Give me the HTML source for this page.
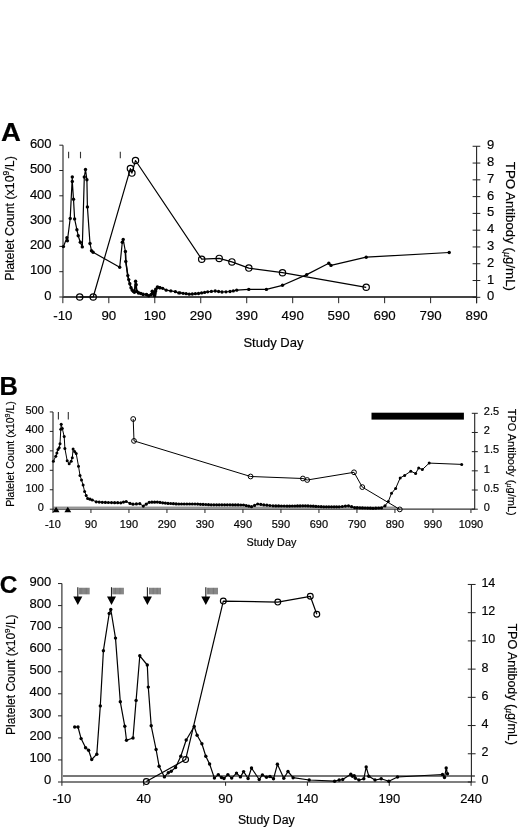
<!DOCTYPE html>
<html><head><meta charset="utf-8"><style>
html,body{margin:0;padding:0;background:#fff;}
svg{display:block;will-change:transform;}
text{font-family:"Liberation Sans", sans-serif;fill:#000;stroke:#000;stroke-width:0.18px;}
</style></head><body>
<svg width="520" height="831" viewBox="0 0 520 831">
<text transform="translate(1.0,140.6) scale(1.1,1)" font-size="25" font-weight="bold">A</text>
<line x1="63.00" y1="145.20" x2="63.00" y2="297.00" stroke="#222" stroke-width="1.1"/>
<line x1="59.30" y1="297.00" x2="63.00" y2="297.00" stroke="#222" stroke-width="1"/>
<text x="51.6" y="299.7" font-size="13" text-anchor="end" font-weight="normal" >0</text>
<line x1="59.30" y1="271.70" x2="63.00" y2="271.70" stroke="#222" stroke-width="1"/>
<text x="51.6" y="274.4" font-size="13" text-anchor="end" font-weight="normal" >100</text>
<line x1="59.30" y1="246.40" x2="63.00" y2="246.40" stroke="#222" stroke-width="1"/>
<text x="51.6" y="249.1" font-size="13" text-anchor="end" font-weight="normal" >200</text>
<line x1="59.30" y1="221.10" x2="63.00" y2="221.10" stroke="#222" stroke-width="1"/>
<text x="51.6" y="223.8" font-size="13" text-anchor="end" font-weight="normal" >300</text>
<line x1="59.30" y1="195.80" x2="63.00" y2="195.80" stroke="#222" stroke-width="1"/>
<text x="51.6" y="198.5" font-size="13" text-anchor="end" font-weight="normal" >400</text>
<line x1="59.30" y1="170.50" x2="63.00" y2="170.50" stroke="#222" stroke-width="1"/>
<text x="51.6" y="173.2" font-size="13" text-anchor="end" font-weight="normal" >500</text>
<line x1="59.30" y1="145.20" x2="63.00" y2="145.20" stroke="#222" stroke-width="1"/>
<text x="51.6" y="147.9" font-size="13" text-anchor="end" font-weight="normal" >600</text>
<line x1="63.00" y1="297.00" x2="476.60" y2="297.00" stroke="#444" stroke-width="1.9"/>
<line x1="62.85" y1="297.00" x2="62.85" y2="303.20" stroke="#222" stroke-width="1"/>
<text x="62.9" y="319.5" font-size="13.3" text-anchor="middle" font-weight="normal" >-10</text>
<line x1="108.82" y1="297.00" x2="108.82" y2="303.20" stroke="#222" stroke-width="1"/>
<text x="108.8" y="319.5" font-size="13.3" text-anchor="middle" font-weight="normal" >90</text>
<line x1="154.79" y1="297.00" x2="154.79" y2="303.20" stroke="#222" stroke-width="1"/>
<text x="154.8" y="319.5" font-size="13.3" text-anchor="middle" font-weight="normal" >190</text>
<line x1="200.76" y1="297.00" x2="200.76" y2="303.20" stroke="#222" stroke-width="1"/>
<text x="200.8" y="319.5" font-size="13.3" text-anchor="middle" font-weight="normal" >290</text>
<line x1="246.73" y1="297.00" x2="246.73" y2="303.20" stroke="#222" stroke-width="1"/>
<text x="246.7" y="319.5" font-size="13.3" text-anchor="middle" font-weight="normal" >390</text>
<line x1="292.70" y1="297.00" x2="292.70" y2="303.20" stroke="#222" stroke-width="1"/>
<text x="292.7" y="319.5" font-size="13.3" text-anchor="middle" font-weight="normal" >490</text>
<line x1="338.67" y1="297.00" x2="338.67" y2="303.20" stroke="#222" stroke-width="1"/>
<text x="338.7" y="319.5" font-size="13.3" text-anchor="middle" font-weight="normal" >590</text>
<line x1="384.64" y1="297.00" x2="384.64" y2="303.20" stroke="#222" stroke-width="1"/>
<text x="384.6" y="319.5" font-size="13.3" text-anchor="middle" font-weight="normal" >690</text>
<line x1="430.61" y1="297.00" x2="430.61" y2="303.20" stroke="#222" stroke-width="1"/>
<text x="430.6" y="319.5" font-size="13.3" text-anchor="middle" font-weight="normal" >790</text>
<line x1="476.58" y1="297.00" x2="476.58" y2="303.20" stroke="#222" stroke-width="1"/>
<text x="476.6" y="319.5" font-size="13.3" text-anchor="middle" font-weight="normal" >890</text>
<text x="273.4" y="347.2" font-size="13" text-anchor="middle" font-weight="normal" >Study Day</text>
<line x1="476.60" y1="146.28" x2="476.60" y2="303.20" stroke="#222" stroke-width="1.1"/>
<line x1="472.60" y1="297.30" x2="480.30" y2="297.30" stroke="#222" stroke-width="1"/>
<text x="487.0" y="300.3" font-size="13" text-anchor="start" font-weight="normal" >0</text>
<line x1="472.60" y1="280.52" x2="480.30" y2="280.52" stroke="#222" stroke-width="1"/>
<text x="487.0" y="283.5" font-size="13" text-anchor="start" font-weight="normal" >1</text>
<line x1="472.60" y1="263.74" x2="480.30" y2="263.74" stroke="#222" stroke-width="1"/>
<text x="487.0" y="266.7" font-size="13" text-anchor="start" font-weight="normal" >2</text>
<line x1="472.60" y1="246.96" x2="480.30" y2="246.96" stroke="#222" stroke-width="1"/>
<text x="487.0" y="250.0" font-size="13" text-anchor="start" font-weight="normal" >3</text>
<line x1="472.60" y1="230.18" x2="480.30" y2="230.18" stroke="#222" stroke-width="1"/>
<text x="487.0" y="233.2" font-size="13" text-anchor="start" font-weight="normal" >4</text>
<line x1="472.60" y1="213.40" x2="480.30" y2="213.40" stroke="#222" stroke-width="1"/>
<text x="487.0" y="216.4" font-size="13" text-anchor="start" font-weight="normal" >5</text>
<line x1="472.60" y1="196.62" x2="480.30" y2="196.62" stroke="#222" stroke-width="1"/>
<text x="487.0" y="199.6" font-size="13" text-anchor="start" font-weight="normal" >6</text>
<line x1="472.60" y1="179.84" x2="480.30" y2="179.84" stroke="#222" stroke-width="1"/>
<text x="487.0" y="182.8" font-size="13" text-anchor="start" font-weight="normal" >7</text>
<line x1="472.60" y1="163.06" x2="480.30" y2="163.06" stroke="#222" stroke-width="1"/>
<text x="487.0" y="166.1" font-size="13" text-anchor="start" font-weight="normal" >8</text>
<line x1="472.60" y1="146.28" x2="480.30" y2="146.28" stroke="#222" stroke-width="1"/>
<text x="487.0" y="149.3" font-size="13" text-anchor="start" font-weight="normal" >9</text>
<text transform="translate(13.8,218.5) rotate(-90)" font-size="12.4" text-anchor="middle">Platelet Count (x10<tspan font-size="8.5" dy="-5">9</tspan><tspan dy="5">/L)</tspan></text>
<text transform="translate(506.4,226.4) rotate(90)" font-size="13.3" text-anchor="middle">TPO Antibody (<tspan font-size="10" dy="2" font-family="Liberation Serif" font-style="italic">&#956;</tspan><tspan dy="-2">g/mL)</tspan></text>
<line x1="68.60" y1="151.80" x2="68.60" y2="158.30" stroke="#333" stroke-width="1.1"/>
<line x1="80.50" y1="151.80" x2="80.50" y2="158.30" stroke="#333" stroke-width="1.1"/>
<line x1="120.30" y1="151.80" x2="120.30" y2="158.30" stroke="#333" stroke-width="1.1"/>
<polyline points="63.4,246.6 66.9,237.7 67.4,240.8 70.2,218.5 72.3,176.9 72.3,181.5 73.5,199.2 74.6,218.9 76.9,229.7 78.2,235.7 80.3,242.3 82.3,246.9 84.3,177.0 85.5,169.5 86.9,179.7 87.4,206.9 90.0,243.5 91.5,250.8 93.1,252.3 119.7,267.2 122.3,242.3 123.2,239.5 125.4,251.5 125.8,261.5 127.8,275.6 128.7,279.6 129.8,283.7 131.0,287.7 132.1,290.0 133.3,291.2 134.4,292.3 135.6,281.3 136.2,284.8 136.7,291.2 138.5,292.9 140.8,293.5 143.1,294.4 146.5,294.6 148.8,295.8 151.2,294.6 152.3,291.2 154.6,295.8 155.8,289.4 157.5,287.1 159.8,287.7 162.7,288.3 166.2,290.2 170.8,290.9 175.4,291.7 178.8,292.9 180.0,292.8 189.2,294.2 198.5,293.5 207.7,291.8 215.2,291.0 222.0,292.0 230.0,291.5 236.7,290.2 248.8,289.4 266.4,289.4 282.5,285.3 306.7,274.6 328.8,263.3 331.0,265.4 366.2,257.2 449.2,252.5" fill="none" stroke="#000" stroke-width="1.2" stroke-linejoin="round" />
<polyline points="125.4,251.5 125.8,261.5 127.8,275.6 128.7,279.6 129.8,283.7 131.0,287.7 132.1,290.0 133.3,291.2 134.4,292.3 135.6,281.3 136.2,284.8 136.7,291.2 138.5,292.9 140.8,293.5 143.1,294.4 146.5,294.6 148.8,295.8 151.2,294.6 152.3,291.2 154.6,295.8 155.8,289.4 157.5,287.1 159.8,287.7" fill="none" stroke="#000" stroke-width="1.5" stroke-linejoin="round" />
<circle cx="63.4" cy="246.6" r="1.7" fill="#000"/><circle cx="66.9" cy="237.7" r="1.7" fill="#000"/><circle cx="67.4" cy="240.8" r="1.7" fill="#000"/><circle cx="70.2" cy="218.5" r="1.7" fill="#000"/><circle cx="72.3" cy="176.9" r="1.7" fill="#000"/><circle cx="72.3" cy="181.5" r="1.7" fill="#000"/><circle cx="73.5" cy="199.2" r="1.7" fill="#000"/><circle cx="74.6" cy="218.9" r="1.7" fill="#000"/><circle cx="76.9" cy="229.7" r="1.7" fill="#000"/><circle cx="78.2" cy="235.7" r="1.7" fill="#000"/><circle cx="80.3" cy="242.3" r="1.7" fill="#000"/><circle cx="82.3" cy="246.9" r="1.7" fill="#000"/><circle cx="84.3" cy="177.0" r="1.7" fill="#000"/><circle cx="85.5" cy="169.5" r="1.7" fill="#000"/><circle cx="86.9" cy="179.7" r="1.7" fill="#000"/><circle cx="87.4" cy="206.9" r="1.7" fill="#000"/><circle cx="90.0" cy="243.5" r="1.7" fill="#000"/><circle cx="91.5" cy="250.8" r="1.7" fill="#000"/><circle cx="93.1" cy="252.3" r="1.7" fill="#000"/><circle cx="119.7" cy="267.2" r="1.7" fill="#000"/><circle cx="122.3" cy="242.3" r="1.7" fill="#000"/><circle cx="123.2" cy="239.5" r="1.7" fill="#000"/><circle cx="125.4" cy="251.5" r="1.7" fill="#000"/><circle cx="125.8" cy="261.5" r="1.7" fill="#000"/><circle cx="127.8" cy="275.6" r="1.7" fill="#000"/><circle cx="128.7" cy="279.6" r="1.7" fill="#000"/><circle cx="129.8" cy="283.7" r="1.7" fill="#000"/><circle cx="131.0" cy="287.7" r="1.7" fill="#000"/><circle cx="132.1" cy="290.0" r="1.7" fill="#000"/><circle cx="133.3" cy="291.2" r="1.7" fill="#000"/><circle cx="134.4" cy="292.3" r="1.7" fill="#000"/><circle cx="135.6" cy="281.3" r="1.7" fill="#000"/><circle cx="136.2" cy="284.8" r="1.7" fill="#000"/><circle cx="248.8" cy="289.4" r="1.7" fill="#000"/><circle cx="266.4" cy="289.4" r="1.7" fill="#000"/><circle cx="282.5" cy="285.3" r="1.7" fill="#000"/><circle cx="306.7" cy="274.6" r="1.7" fill="#000"/><circle cx="328.8" cy="263.3" r="1.7" fill="#000"/><circle cx="331.0" cy="265.4" r="1.7" fill="#000"/><circle cx="366.2" cy="257.2" r="1.7" fill="#000"/><circle cx="449.2" cy="252.5" r="1.7" fill="#000"/>
<circle cx="136.7" cy="291.2" r="1.8" fill="#000"/><circle cx="138.5" cy="292.9" r="1.8" fill="#000"/><circle cx="140.8" cy="293.5" r="1.8" fill="#000"/><circle cx="143.1" cy="294.4" r="1.8" fill="#000"/><circle cx="146.5" cy="294.6" r="1.8" fill="#000"/><circle cx="148.8" cy="295.8" r="1.8" fill="#000"/><circle cx="151.2" cy="294.6" r="1.8" fill="#000"/><circle cx="152.3" cy="291.2" r="1.8" fill="#000"/><circle cx="153.4" cy="293.5" r="1.8" fill="#000"/><circle cx="154.6" cy="295.8" r="1.8" fill="#000"/><circle cx="155.0" cy="293.7" r="1.8" fill="#000"/><circle cx="155.4" cy="291.5" r="1.8" fill="#000"/><circle cx="155.8" cy="289.4" r="1.8" fill="#000"/><circle cx="157.5" cy="287.1" r="1.8" fill="#000"/><circle cx="159.8" cy="287.7" r="1.8" fill="#000"/>
<circle cx="159.8" cy="287.7" r="1.65" fill="#000"/><circle cx="162.7" cy="288.3" r="1.65" fill="#000"/><circle cx="166.2" cy="290.2" r="1.65" fill="#000"/><circle cx="170.8" cy="290.9" r="1.65" fill="#000"/><circle cx="175.4" cy="291.7" r="1.65" fill="#000"/><circle cx="178.8" cy="292.9" r="1.65" fill="#000"/><circle cx="180.0" cy="292.8" r="1.65" fill="#000"/><circle cx="183.1" cy="293.3" r="1.65" fill="#000"/><circle cx="186.1" cy="293.7" r="1.65" fill="#000"/><circle cx="189.2" cy="294.2" r="1.65" fill="#000"/><circle cx="192.3" cy="294.0" r="1.65" fill="#000"/><circle cx="195.4" cy="293.7" r="1.65" fill="#000"/><circle cx="198.5" cy="293.5" r="1.65" fill="#000"/><circle cx="201.6" cy="292.9" r="1.65" fill="#000"/><circle cx="204.6" cy="292.4" r="1.65" fill="#000"/><circle cx="207.7" cy="291.8" r="1.65" fill="#000"/><circle cx="211.4" cy="291.4" r="1.65" fill="#000"/><circle cx="215.2" cy="291.0" r="1.65" fill="#000"/><circle cx="218.6" cy="291.5" r="1.65" fill="#000"/><circle cx="222.0" cy="292.0" r="1.65" fill="#000"/><circle cx="226.0" cy="291.8" r="1.65" fill="#000"/><circle cx="230.0" cy="291.5" r="1.65" fill="#000"/><circle cx="233.3" cy="290.9" r="1.65" fill="#000"/><circle cx="236.7" cy="290.2" r="1.65" fill="#000"/>
<polyline points="79.7,297.0 93.2,297.0 130.4,168.6 131.9,173.1 135.5,160.5 201.7,259.2 219.2,258.4 231.9,261.9 248.8,268.1 282.5,272.7 366.2,287.3" fill="none" stroke="#000" stroke-width="1.2" stroke-linejoin="round" />
<circle cx="79.7" cy="297.0" r="3.15" fill="none" stroke="#000" stroke-width="1.2"/><circle cx="93.2" cy="297.0" r="3.15" fill="none" stroke="#000" stroke-width="1.2"/><circle cx="130.4" cy="168.6" r="3.15" fill="none" stroke="#000" stroke-width="1.2"/><circle cx="131.9" cy="173.1" r="3.15" fill="none" stroke="#000" stroke-width="1.2"/><circle cx="135.5" cy="160.5" r="3.15" fill="none" stroke="#000" stroke-width="1.2"/><circle cx="201.7" cy="259.2" r="3.15" fill="none" stroke="#000" stroke-width="1.2"/><circle cx="219.2" cy="258.4" r="3.15" fill="none" stroke="#000" stroke-width="1.2"/><circle cx="231.9" cy="261.9" r="3.15" fill="none" stroke="#000" stroke-width="1.2"/><circle cx="248.8" cy="268.1" r="3.15" fill="none" stroke="#000" stroke-width="1.2"/><circle cx="282.5" cy="272.7" r="3.15" fill="none" stroke="#000" stroke-width="1.2"/><circle cx="366.2" cy="287.3" r="3.15" fill="none" stroke="#000" stroke-width="1.2"/>
<text x="-0.6" y="395.3" font-size="25.5" text-anchor="start" font-weight="bold" >B</text>
<line x1="53.00" y1="411.95" x2="53.00" y2="509.20" stroke="#222" stroke-width="1.1"/>
<line x1="49.80" y1="509.20" x2="53.00" y2="509.20" stroke="#222" stroke-width="1"/>
<text x="43.8" y="511.2" font-size="11" text-anchor="end" font-weight="normal" >0</text>
<line x1="49.80" y1="489.75" x2="53.00" y2="489.75" stroke="#222" stroke-width="1"/>
<text x="43.8" y="491.8" font-size="11" text-anchor="end" font-weight="normal" >100</text>
<line x1="49.80" y1="470.30" x2="53.00" y2="470.30" stroke="#222" stroke-width="1"/>
<text x="43.8" y="472.3" font-size="11" text-anchor="end" font-weight="normal" >200</text>
<line x1="49.80" y1="450.85" x2="53.00" y2="450.85" stroke="#222" stroke-width="1"/>
<text x="43.8" y="452.9" font-size="11" text-anchor="end" font-weight="normal" >300</text>
<line x1="49.80" y1="431.40" x2="53.00" y2="431.40" stroke="#222" stroke-width="1"/>
<text x="43.8" y="433.4" font-size="11" text-anchor="end" font-weight="normal" >400</text>
<line x1="49.80" y1="411.95" x2="53.00" y2="411.95" stroke="#222" stroke-width="1"/>
<text x="43.8" y="413.9" font-size="11" text-anchor="end" font-weight="normal" >500</text>
<line x1="53.00" y1="507.20" x2="396.00" y2="507.20" stroke="#666" stroke-width="1"/>
<line x1="53.00" y1="509.20" x2="474.70" y2="509.20" stroke="#333" stroke-width="1.2"/>
<line x1="52.94" y1="509.20" x2="52.94" y2="513.00" stroke="#222" stroke-width="1"/>
<text x="52.9" y="527.5" font-size="11" text-anchor="middle" font-weight="normal" >-10</text>
<line x1="90.94" y1="509.20" x2="90.94" y2="513.00" stroke="#222" stroke-width="1"/>
<text x="90.9" y="527.5" font-size="11" text-anchor="middle" font-weight="normal" >90</text>
<line x1="128.94" y1="509.20" x2="128.94" y2="513.00" stroke="#222" stroke-width="1"/>
<text x="128.9" y="527.5" font-size="11" text-anchor="middle" font-weight="normal" >190</text>
<line x1="166.94" y1="509.20" x2="166.94" y2="513.00" stroke="#222" stroke-width="1"/>
<text x="166.9" y="527.5" font-size="11" text-anchor="middle" font-weight="normal" >290</text>
<line x1="204.94" y1="509.20" x2="204.94" y2="513.00" stroke="#222" stroke-width="1"/>
<text x="204.9" y="527.5" font-size="11" text-anchor="middle" font-weight="normal" >390</text>
<line x1="242.94" y1="509.20" x2="242.94" y2="513.00" stroke="#222" stroke-width="1"/>
<text x="242.9" y="527.5" font-size="11" text-anchor="middle" font-weight="normal" >490</text>
<line x1="280.94" y1="509.20" x2="280.94" y2="513.00" stroke="#222" stroke-width="1"/>
<text x="280.9" y="527.5" font-size="11" text-anchor="middle" font-weight="normal" >590</text>
<line x1="318.94" y1="509.20" x2="318.94" y2="513.00" stroke="#222" stroke-width="1"/>
<text x="318.9" y="527.5" font-size="11" text-anchor="middle" font-weight="normal" >690</text>
<line x1="356.94" y1="509.20" x2="356.94" y2="513.00" stroke="#222" stroke-width="1"/>
<text x="356.9" y="527.5" font-size="11" text-anchor="middle" font-weight="normal" >790</text>
<line x1="394.94" y1="509.20" x2="394.94" y2="513.00" stroke="#222" stroke-width="1"/>
<text x="394.9" y="527.5" font-size="11" text-anchor="middle" font-weight="normal" >890</text>
<line x1="432.94" y1="509.20" x2="432.94" y2="513.00" stroke="#222" stroke-width="1"/>
<text x="432.9" y="527.5" font-size="11" text-anchor="middle" font-weight="normal" >990</text>
<line x1="470.94" y1="509.20" x2="470.94" y2="513.00" stroke="#222" stroke-width="1"/>
<text x="470.9" y="527.5" font-size="11" text-anchor="middle" font-weight="normal" >1090</text>
<text x="271.4" y="545.8" font-size="10.8" text-anchor="middle" font-weight="normal" >Study Day</text>
<line x1="474.70" y1="413.30" x2="474.70" y2="509.20" stroke="#222" stroke-width="1.1"/>
<line x1="471.80" y1="509.20" x2="477.80" y2="509.20" stroke="#222" stroke-width="1"/>
<text x="483.8" y="510.9" font-size="11" text-anchor="start" font-weight="normal" >0</text>
<line x1="471.80" y1="490.02" x2="477.80" y2="490.02" stroke="#222" stroke-width="1"/>
<text x="483.8" y="491.7" font-size="11" text-anchor="start" font-weight="normal" >0.5</text>
<line x1="471.80" y1="470.84" x2="477.80" y2="470.84" stroke="#222" stroke-width="1"/>
<text x="483.8" y="472.5" font-size="11" text-anchor="start" font-weight="normal" >1</text>
<line x1="471.80" y1="451.66" x2="477.80" y2="451.66" stroke="#222" stroke-width="1"/>
<text x="483.8" y="453.4" font-size="11" text-anchor="start" font-weight="normal" >1.5</text>
<line x1="471.80" y1="432.48" x2="477.80" y2="432.48" stroke="#222" stroke-width="1"/>
<text x="483.8" y="434.2" font-size="11" text-anchor="start" font-weight="normal" >2</text>
<line x1="471.80" y1="413.30" x2="477.80" y2="413.30" stroke="#222" stroke-width="1"/>
<text x="483.8" y="415.0" font-size="11" text-anchor="start" font-weight="normal" >2.5</text>
<text transform="translate(13.6,454.0) rotate(-90)" font-size="10.5" text-anchor="middle">Platelet Count (x10<tspan font-size="7" dy="-4">9</tspan><tspan dy="4">/L)</tspan></text>
<text transform="translate(508.3,462.2) rotate(90)" font-size="11" text-anchor="middle">TPO Antibody (<tspan font-size="8.5" dy="1.5" font-family="Liberation Serif" font-style="italic">&#956;</tspan><tspan dy="-1.5">g/mL)</tspan></text>
<line x1="58.40" y1="412.00" x2="58.40" y2="419.60" stroke="#333" stroke-width="1.1"/>
<line x1="68.30" y1="412.00" x2="68.30" y2="419.60" stroke="#333" stroke-width="1.1"/>
<rect x="371.5" y="412.7" width="92.4" height="6.9" fill="#000"/>
<polygon points="52.7,512.3 59.5,512.3 56.1,506.7" fill="#000"/>
<polygon points="64.4,512.3 71.2,512.3 67.8,506.7" fill="#000"/>
<polyline points="53.4,461.2 55.8,456.2 56.9,453.1 58.0,449.5 59.2,447.7 60.0,443.8 60.8,429.2 61.2,424.3 62.3,428.5 64.2,436.6 64.9,448.5 67.2,460.8 69.2,463.8 71.2,461.2 72.3,457.7 73.1,448.9 74.6,451.5 76.2,453.5 78.5,466.2 80.0,475.4 81.5,480.0 83.1,485.1 84.6,491.5 86.2,495.4 87.7,498.5 90.0,499.2 92.3,500.0 96.2,501.8 102.3,502.3 111.5,502.6 120.8,502.8 126.2,501.5 130.0,503.4 133.0,504.2 139.8,503.7 143.3,506.1 149.2,502.3 157.3,502.1 168.0,503.4 178.8,504.0 195.0,504.0 211.2,504.8 227.3,504.8 243.5,505.0 251.5,506.7 257.7,504.0 263.8,504.9 273.0,505.8 287.0,506.1 305.4,505.8 323.8,506.8 339.2,506.8 348.5,505.8 354.6,507.6 373.0,508.3 381.5,507.9 385.0,505.8 388.3,501.5 391.5,493.3 395.6,488.5 400.2,477.9 404.6,475.4 410.8,471.2 415.6,473.5 418.7,467.9 422.3,469.6 429.2,463.1 461.7,464.4" fill="none" stroke="#000" stroke-width="1.0" stroke-linejoin="round" />
<circle cx="53.4" cy="461.2" r="1.5" fill="#000"/><circle cx="55.8" cy="456.2" r="1.5" fill="#000"/><circle cx="56.9" cy="453.1" r="1.5" fill="#000"/><circle cx="58.0" cy="449.5" r="1.5" fill="#000"/><circle cx="59.2" cy="447.7" r="1.5" fill="#000"/><circle cx="60.0" cy="443.8" r="1.5" fill="#000"/><circle cx="60.8" cy="429.2" r="1.5" fill="#000"/><circle cx="61.2" cy="424.3" r="1.5" fill="#000"/><circle cx="62.3" cy="428.5" r="1.5" fill="#000"/><circle cx="64.2" cy="436.6" r="1.5" fill="#000"/><circle cx="64.9" cy="448.5" r="1.5" fill="#000"/><circle cx="67.2" cy="460.8" r="1.5" fill="#000"/><circle cx="69.2" cy="463.8" r="1.5" fill="#000"/><circle cx="71.2" cy="461.2" r="1.5" fill="#000"/><circle cx="72.3" cy="457.7" r="1.5" fill="#000"/><circle cx="73.1" cy="448.9" r="1.5" fill="#000"/><circle cx="74.6" cy="451.5" r="1.5" fill="#000"/><circle cx="76.2" cy="453.5" r="1.5" fill="#000"/><circle cx="78.5" cy="466.2" r="1.5" fill="#000"/><circle cx="80.0" cy="475.4" r="1.5" fill="#000"/><circle cx="81.5" cy="480.0" r="1.5" fill="#000"/><circle cx="83.1" cy="485.1" r="1.5" fill="#000"/><circle cx="84.6" cy="491.5" r="1.5" fill="#000"/><circle cx="86.2" cy="495.4" r="1.5" fill="#000"/><circle cx="388.3" cy="501.5" r="1.5" fill="#000"/><circle cx="391.5" cy="493.3" r="1.5" fill="#000"/><circle cx="395.6" cy="488.5" r="1.5" fill="#000"/><circle cx="400.2" cy="477.9" r="1.5" fill="#000"/><circle cx="404.6" cy="475.4" r="1.5" fill="#000"/><circle cx="410.8" cy="471.2" r="1.5" fill="#000"/><circle cx="415.6" cy="473.5" r="1.5" fill="#000"/><circle cx="418.7" cy="467.9" r="1.5" fill="#000"/><circle cx="422.3" cy="469.6" r="1.5" fill="#000"/><circle cx="429.2" cy="463.1" r="1.5" fill="#000"/><circle cx="461.7" cy="464.4" r="1.5" fill="#000"/>
<circle cx="87.7" cy="498.5" r="1.6" fill="#000"/><circle cx="90.0" cy="499.2" r="1.6" fill="#000"/><circle cx="92.3" cy="500.0" r="1.6" fill="#000"/><circle cx="96.2" cy="501.8" r="1.6" fill="#000"/><circle cx="99.2" cy="502.1" r="1.6" fill="#000"/><circle cx="102.3" cy="502.3" r="1.6" fill="#000"/><circle cx="105.4" cy="502.4" r="1.6" fill="#000"/><circle cx="108.4" cy="502.5" r="1.6" fill="#000"/><circle cx="111.5" cy="502.6" r="1.6" fill="#000"/><circle cx="114.6" cy="502.7" r="1.6" fill="#000"/><circle cx="117.7" cy="502.7" r="1.6" fill="#000"/><circle cx="120.8" cy="502.8" r="1.6" fill="#000"/><circle cx="123.5" cy="502.1" r="1.6" fill="#000"/><circle cx="126.2" cy="501.5" r="1.6" fill="#000"/><circle cx="130.0" cy="503.4" r="1.6" fill="#000"/><circle cx="133.0" cy="504.2" r="1.6" fill="#000"/><circle cx="136.4" cy="503.9" r="1.6" fill="#000"/><circle cx="139.8" cy="503.7" r="1.6" fill="#000"/><circle cx="143.3" cy="506.1" r="1.6" fill="#000"/><circle cx="146.2" cy="504.2" r="1.6" fill="#000"/><circle cx="149.2" cy="502.3" r="1.6" fill="#000"/><circle cx="151.9" cy="502.2" r="1.6" fill="#000"/><circle cx="154.6" cy="502.2" r="1.6" fill="#000"/><circle cx="157.3" cy="502.1" r="1.6" fill="#000"/><circle cx="160.0" cy="502.4" r="1.6" fill="#000"/><circle cx="162.7" cy="502.8" r="1.6" fill="#000"/><circle cx="165.3" cy="503.1" r="1.6" fill="#000"/><circle cx="168.0" cy="503.4" r="1.6" fill="#000"/><circle cx="170.7" cy="503.5" r="1.6" fill="#000"/><circle cx="173.4" cy="503.7" r="1.6" fill="#000"/><circle cx="176.1" cy="503.9" r="1.6" fill="#000"/><circle cx="178.8" cy="504.0" r="1.6" fill="#000"/><circle cx="181.5" cy="504.0" r="1.6" fill="#000"/><circle cx="184.2" cy="504.0" r="1.6" fill="#000"/><circle cx="186.9" cy="504.0" r="1.6" fill="#000"/><circle cx="189.6" cy="504.0" r="1.6" fill="#000"/><circle cx="192.3" cy="504.0" r="1.6" fill="#000"/><circle cx="195.0" cy="504.0" r="1.6" fill="#000"/><circle cx="197.7" cy="504.1" r="1.6" fill="#000"/><circle cx="200.4" cy="504.3" r="1.6" fill="#000"/><circle cx="203.1" cy="504.4" r="1.6" fill="#000"/><circle cx="205.8" cy="504.5" r="1.6" fill="#000"/><circle cx="208.5" cy="504.7" r="1.6" fill="#000"/><circle cx="211.2" cy="504.8" r="1.6" fill="#000"/><circle cx="213.9" cy="504.8" r="1.6" fill="#000"/><circle cx="216.6" cy="504.8" r="1.6" fill="#000"/><circle cx="219.2" cy="504.8" r="1.6" fill="#000"/><circle cx="221.9" cy="504.8" r="1.6" fill="#000"/><circle cx="224.6" cy="504.8" r="1.6" fill="#000"/><circle cx="227.3" cy="504.8" r="1.6" fill="#000"/><circle cx="230.0" cy="504.8" r="1.6" fill="#000"/><circle cx="232.7" cy="504.9" r="1.6" fill="#000"/><circle cx="235.4" cy="504.9" r="1.6" fill="#000"/><circle cx="238.1" cy="504.9" r="1.6" fill="#000"/><circle cx="240.8" cy="505.0" r="1.6" fill="#000"/><circle cx="243.5" cy="505.0" r="1.6" fill="#000"/><circle cx="246.2" cy="505.6" r="1.6" fill="#000"/><circle cx="248.8" cy="506.1" r="1.6" fill="#000"/><circle cx="251.5" cy="506.7" r="1.6" fill="#000"/><circle cx="254.6" cy="505.4" r="1.6" fill="#000"/><circle cx="257.7" cy="504.0" r="1.6" fill="#000"/><circle cx="260.8" cy="504.4" r="1.6" fill="#000"/><circle cx="263.8" cy="504.9" r="1.6" fill="#000"/><circle cx="266.9" cy="505.2" r="1.6" fill="#000"/><circle cx="269.9" cy="505.5" r="1.6" fill="#000"/><circle cx="273.0" cy="505.8" r="1.6" fill="#000"/><circle cx="275.8" cy="505.9" r="1.6" fill="#000"/><circle cx="278.6" cy="505.9" r="1.6" fill="#000"/><circle cx="281.4" cy="506.0" r="1.6" fill="#000"/><circle cx="284.2" cy="506.0" r="1.6" fill="#000"/><circle cx="287.0" cy="506.1" r="1.6" fill="#000"/><circle cx="289.6" cy="506.1" r="1.6" fill="#000"/><circle cx="292.3" cy="506.0" r="1.6" fill="#000"/><circle cx="294.9" cy="506.0" r="1.6" fill="#000"/><circle cx="297.5" cy="505.9" r="1.6" fill="#000"/><circle cx="300.1" cy="505.9" r="1.6" fill="#000"/><circle cx="302.8" cy="505.8" r="1.6" fill="#000"/><circle cx="305.4" cy="505.8" r="1.6" fill="#000"/><circle cx="308.0" cy="505.9" r="1.6" fill="#000"/><circle cx="310.7" cy="506.1" r="1.6" fill="#000"/><circle cx="313.3" cy="506.2" r="1.6" fill="#000"/><circle cx="315.9" cy="506.4" r="1.6" fill="#000"/><circle cx="318.5" cy="506.5" r="1.6" fill="#000"/><circle cx="321.2" cy="506.7" r="1.6" fill="#000"/><circle cx="323.8" cy="506.8" r="1.6" fill="#000"/><circle cx="326.4" cy="506.8" r="1.6" fill="#000"/><circle cx="328.9" cy="506.8" r="1.6" fill="#000"/><circle cx="331.5" cy="506.8" r="1.6" fill="#000"/><circle cx="334.1" cy="506.8" r="1.6" fill="#000"/><circle cx="336.6" cy="506.8" r="1.6" fill="#000"/><circle cx="339.2" cy="506.8" r="1.6" fill="#000"/><circle cx="342.3" cy="506.5" r="1.6" fill="#000"/><circle cx="345.4" cy="506.1" r="1.6" fill="#000"/><circle cx="348.5" cy="505.8" r="1.6" fill="#000"/><circle cx="351.6" cy="506.7" r="1.6" fill="#000"/><circle cx="354.6" cy="507.6" r="1.6" fill="#000"/><circle cx="357.2" cy="507.7" r="1.6" fill="#000"/><circle cx="359.9" cy="507.8" r="1.6" fill="#000"/><circle cx="362.5" cy="507.9" r="1.6" fill="#000"/><circle cx="365.1" cy="508.0" r="1.6" fill="#000"/><circle cx="367.7" cy="508.1" r="1.6" fill="#000"/><circle cx="370.4" cy="508.2" r="1.6" fill="#000"/><circle cx="373.0" cy="508.3" r="1.6" fill="#000"/><circle cx="375.8" cy="508.2" r="1.6" fill="#000"/><circle cx="378.7" cy="508.0" r="1.6" fill="#000"/><circle cx="381.5" cy="507.9" r="1.6" fill="#000"/><circle cx="385.0" cy="505.8" r="1.6" fill="#000"/>
<polyline points="133.2,419.0 134.0,440.9 250.6,476.5 302.9,478.5 307.2,480.0 354.0,472.3 362.3,487.1 399.8,509.4" fill="none" stroke="#000" stroke-width="1.0" stroke-linejoin="round" />
<circle cx="133.2" cy="419.0" r="2.4" fill="none" stroke="#000" stroke-width="1.0"/><circle cx="134.0" cy="440.9" r="2.4" fill="none" stroke="#000" stroke-width="1.0"/><circle cx="250.6" cy="476.5" r="2.4" fill="none" stroke="#000" stroke-width="1.0"/><circle cx="302.9" cy="478.5" r="2.4" fill="none" stroke="#000" stroke-width="1.0"/><circle cx="307.2" cy="480.0" r="2.4" fill="none" stroke="#000" stroke-width="1.0"/><circle cx="354.0" cy="472.3" r="2.4" fill="none" stroke="#000" stroke-width="1.0"/><circle cx="362.3" cy="487.1" r="2.4" fill="none" stroke="#000" stroke-width="1.0"/><circle cx="399.8" cy="509.4" r="2.4" fill="none" stroke="#000" stroke-width="1.0"/>
<text x="-0.3" y="593.1" font-size="24.5" text-anchor="start" font-weight="bold" >C</text>
<line x1="61.90" y1="583.55" x2="61.90" y2="782.00" stroke="#222" stroke-width="1.1"/>
<line x1="58.00" y1="782.00" x2="61.90" y2="782.00" stroke="#222" stroke-width="1"/>
<text x="51.3" y="784.0" font-size="13" text-anchor="end" font-weight="normal" >0</text>
<line x1="58.00" y1="759.95" x2="61.90" y2="759.95" stroke="#222" stroke-width="1"/>
<text x="51.3" y="762.0" font-size="13" text-anchor="end" font-weight="normal" >100</text>
<line x1="58.00" y1="737.90" x2="61.90" y2="737.90" stroke="#222" stroke-width="1"/>
<text x="51.3" y="739.9" font-size="13" text-anchor="end" font-weight="normal" >200</text>
<line x1="58.00" y1="715.85" x2="61.90" y2="715.85" stroke="#222" stroke-width="1"/>
<text x="51.3" y="717.9" font-size="13" text-anchor="end" font-weight="normal" >300</text>
<line x1="58.00" y1="693.80" x2="61.90" y2="693.80" stroke="#222" stroke-width="1"/>
<text x="51.3" y="695.8" font-size="13" text-anchor="end" font-weight="normal" >400</text>
<line x1="58.00" y1="671.75" x2="61.90" y2="671.75" stroke="#222" stroke-width="1"/>
<text x="51.3" y="673.8" font-size="13" text-anchor="end" font-weight="normal" >500</text>
<line x1="58.00" y1="649.70" x2="61.90" y2="649.70" stroke="#222" stroke-width="1"/>
<text x="51.3" y="651.7" font-size="13" text-anchor="end" font-weight="normal" >600</text>
<line x1="58.00" y1="627.65" x2="61.90" y2="627.65" stroke="#222" stroke-width="1"/>
<text x="51.3" y="629.6" font-size="13" text-anchor="end" font-weight="normal" >700</text>
<line x1="58.00" y1="605.60" x2="61.90" y2="605.60" stroke="#222" stroke-width="1"/>
<text x="51.3" y="607.6" font-size="13" text-anchor="end" font-weight="normal" >800</text>
<line x1="58.00" y1="583.55" x2="61.90" y2="583.55" stroke="#222" stroke-width="1"/>
<text x="51.3" y="585.5" font-size="13" text-anchor="end" font-weight="normal" >900</text>
<line x1="62.90" y1="776.00" x2="474.90" y2="776.00" stroke="#4a4a4a" stroke-width="1.4"/>
<line x1="61.90" y1="782.00" x2="471.40" y2="782.00" stroke="#555" stroke-width="1.6"/>
<line x1="61.90" y1="782.00" x2="61.90" y2="785.80" stroke="#222" stroke-width="1"/>
<text x="61.9" y="803.1" font-size="13" text-anchor="middle" font-weight="normal" >-10</text>
<line x1="143.74" y1="782.00" x2="143.74" y2="785.80" stroke="#222" stroke-width="1"/>
<text x="143.7" y="803.1" font-size="13" text-anchor="middle" font-weight="normal" >40</text>
<line x1="225.58" y1="782.00" x2="225.58" y2="785.80" stroke="#222" stroke-width="1"/>
<text x="225.6" y="803.1" font-size="13" text-anchor="middle" font-weight="normal" >90</text>
<line x1="307.42" y1="782.00" x2="307.42" y2="785.80" stroke="#222" stroke-width="1"/>
<text x="307.4" y="803.1" font-size="13" text-anchor="middle" font-weight="normal" >140</text>
<line x1="389.26" y1="782.00" x2="389.26" y2="785.80" stroke="#222" stroke-width="1"/>
<text x="389.3" y="803.1" font-size="13" text-anchor="middle" font-weight="normal" >190</text>
<line x1="471.10" y1="782.00" x2="471.10" y2="785.80" stroke="#222" stroke-width="1"/>
<text x="471.1" y="803.1" font-size="13" text-anchor="middle" font-weight="normal" >240</text>
<text x="266.3" y="823.6" font-size="12.3" text-anchor="middle" font-weight="normal" >Study Day</text>
<line x1="471.40" y1="584.46" x2="471.40" y2="782.00" stroke="#222" stroke-width="1.1"/>
<line x1="467.80" y1="782.00" x2="475.60" y2="782.00" stroke="#222" stroke-width="1"/>
<text x="481.4" y="784.4" font-size="12.5" text-anchor="start" font-weight="normal" >0</text>
<line x1="467.80" y1="753.78" x2="475.60" y2="753.78" stroke="#222" stroke-width="1"/>
<text x="481.4" y="756.2" font-size="12.5" text-anchor="start" font-weight="normal" >2</text>
<line x1="467.80" y1="725.56" x2="475.60" y2="725.56" stroke="#222" stroke-width="1"/>
<text x="481.4" y="728.0" font-size="12.5" text-anchor="start" font-weight="normal" >4</text>
<line x1="467.80" y1="697.34" x2="475.60" y2="697.34" stroke="#222" stroke-width="1"/>
<text x="481.4" y="699.7" font-size="12.5" text-anchor="start" font-weight="normal" >6</text>
<line x1="467.80" y1="669.12" x2="475.60" y2="669.12" stroke="#222" stroke-width="1"/>
<text x="481.4" y="671.5" font-size="12.5" text-anchor="start" font-weight="normal" >8</text>
<line x1="467.80" y1="640.90" x2="475.60" y2="640.90" stroke="#222" stroke-width="1"/>
<text x="481.4" y="643.3" font-size="12.5" text-anchor="start" font-weight="normal" >10</text>
<line x1="467.80" y1="612.68" x2="475.60" y2="612.68" stroke="#222" stroke-width="1"/>
<text x="481.4" y="615.1" font-size="12.5" text-anchor="start" font-weight="normal" >12</text>
<line x1="467.80" y1="584.46" x2="475.60" y2="584.46" stroke="#222" stroke-width="1"/>
<text x="481.4" y="586.9" font-size="12.5" text-anchor="start" font-weight="normal" >14</text>
<text transform="translate(14.8,674.7) rotate(-90)" font-size="12.0" text-anchor="middle">Platelet Count (x10<tspan font-size="8" dy="-5">9</tspan><tspan dy="5">/L)</tspan></text>
<text transform="translate(508.2,684.2) rotate(90)" font-size="12.5" text-anchor="middle">TPO Antibody (<tspan font-size="9.5" dy="2" font-family="Liberation Serif" font-style="italic">&#956;</tspan><tspan dy="-2">g/mL)</tspan></text>
<line x1="77.80" y1="587.20" x2="77.80" y2="598.00" stroke="#222" stroke-width="1.1"/>
<rect x="78.6" y="587.8" width="11.0" height="6.5" fill="#a8a8a8"/>
<line x1="79.20" y1="587.80" x2="79.20" y2="594.30" stroke="#505050" stroke-width="0.55"/>
<line x1="80.42" y1="587.80" x2="80.42" y2="594.30" stroke="#505050" stroke-width="0.55"/>
<line x1="81.65" y1="587.80" x2="81.65" y2="594.30" stroke="#505050" stroke-width="0.55"/>
<line x1="82.87" y1="587.80" x2="82.87" y2="594.30" stroke="#505050" stroke-width="0.55"/>
<line x1="84.10" y1="587.80" x2="84.10" y2="594.30" stroke="#505050" stroke-width="0.55"/>
<line x1="85.32" y1="587.80" x2="85.32" y2="594.30" stroke="#505050" stroke-width="0.55"/>
<line x1="86.55" y1="587.80" x2="86.55" y2="594.30" stroke="#505050" stroke-width="0.55"/>
<line x1="87.77" y1="587.80" x2="87.77" y2="594.30" stroke="#505050" stroke-width="0.55"/>
<line x1="89.00" y1="587.80" x2="89.00" y2="594.30" stroke="#505050" stroke-width="0.55"/>
<polygon points="73.3,596.4 82.3,596.4 77.8,604.9" fill="#000"/>
<line x1="111.50" y1="587.20" x2="111.50" y2="598.00" stroke="#222" stroke-width="1.1"/>
<rect x="112.4" y="587.8" width="11.4" height="6.5" fill="#a8a8a8"/>
<line x1="113.00" y1="587.80" x2="113.00" y2="594.30" stroke="#505050" stroke-width="0.55"/>
<line x1="114.28" y1="587.80" x2="114.28" y2="594.30" stroke="#505050" stroke-width="0.55"/>
<line x1="115.55" y1="587.80" x2="115.55" y2="594.30" stroke="#505050" stroke-width="0.55"/>
<line x1="116.83" y1="587.80" x2="116.83" y2="594.30" stroke="#505050" stroke-width="0.55"/>
<line x1="118.10" y1="587.80" x2="118.10" y2="594.30" stroke="#505050" stroke-width="0.55"/>
<line x1="119.38" y1="587.80" x2="119.38" y2="594.30" stroke="#505050" stroke-width="0.55"/>
<line x1="120.65" y1="587.80" x2="120.65" y2="594.30" stroke="#505050" stroke-width="0.55"/>
<line x1="121.92" y1="587.80" x2="121.92" y2="594.30" stroke="#505050" stroke-width="0.55"/>
<line x1="123.20" y1="587.80" x2="123.20" y2="594.30" stroke="#505050" stroke-width="0.55"/>
<polygon points="107.0,596.4 116.0,596.4 111.5,604.9" fill="#000"/>
<line x1="147.40" y1="587.20" x2="147.40" y2="598.00" stroke="#222" stroke-width="1.1"/>
<rect x="149.0" y="587.8" width="11.9" height="6.5" fill="#a8a8a8"/>
<line x1="149.60" y1="587.80" x2="149.60" y2="594.30" stroke="#505050" stroke-width="0.55"/>
<line x1="150.94" y1="587.80" x2="150.94" y2="594.30" stroke="#505050" stroke-width="0.55"/>
<line x1="152.28" y1="587.80" x2="152.28" y2="594.30" stroke="#505050" stroke-width="0.55"/>
<line x1="153.61" y1="587.80" x2="153.61" y2="594.30" stroke="#505050" stroke-width="0.55"/>
<line x1="154.95" y1="587.80" x2="154.95" y2="594.30" stroke="#505050" stroke-width="0.55"/>
<line x1="156.29" y1="587.80" x2="156.29" y2="594.30" stroke="#505050" stroke-width="0.55"/>
<line x1="157.62" y1="587.80" x2="157.62" y2="594.30" stroke="#505050" stroke-width="0.55"/>
<line x1="158.96" y1="587.80" x2="158.96" y2="594.30" stroke="#505050" stroke-width="0.55"/>
<line x1="160.30" y1="587.80" x2="160.30" y2="594.30" stroke="#505050" stroke-width="0.55"/>
<polygon points="142.9,596.4 151.9,596.4 147.4,604.9" fill="#000"/>
<line x1="205.80" y1="587.20" x2="205.80" y2="598.00" stroke="#222" stroke-width="1.1"/>
<rect x="206.6" y="587.8" width="11.3" height="6.5" fill="#a8a8a8"/>
<line x1="207.20" y1="587.80" x2="207.20" y2="594.30" stroke="#505050" stroke-width="0.55"/>
<line x1="208.46" y1="587.80" x2="208.46" y2="594.30" stroke="#505050" stroke-width="0.55"/>
<line x1="209.72" y1="587.80" x2="209.72" y2="594.30" stroke="#505050" stroke-width="0.55"/>
<line x1="210.99" y1="587.80" x2="210.99" y2="594.30" stroke="#505050" stroke-width="0.55"/>
<line x1="212.25" y1="587.80" x2="212.25" y2="594.30" stroke="#505050" stroke-width="0.55"/>
<line x1="213.51" y1="587.80" x2="213.51" y2="594.30" stroke="#505050" stroke-width="0.55"/>
<line x1="214.78" y1="587.80" x2="214.78" y2="594.30" stroke="#505050" stroke-width="0.55"/>
<line x1="216.04" y1="587.80" x2="216.04" y2="594.30" stroke="#505050" stroke-width="0.55"/>
<line x1="217.30" y1="587.80" x2="217.30" y2="594.30" stroke="#505050" stroke-width="0.55"/>
<polygon points="201.3,596.4 210.3,596.4 205.8,604.9" fill="#000"/>
<polyline points="74.7,727.0 78.0,727.0 81.1,738.6 85.6,747.8 88.6,750.3 91.7,759.5 96.8,754.2 100.3,705.9 103.4,650.7 109.2,613.5 110.8,609.5 115.5,638.1 120.3,701.8 124.8,726.3 126.5,740.2 133.0,738.0 136.1,700.4 139.8,655.8 147.3,665.0 148.3,687.1 151.2,725.8 156.1,749.5 159.1,766.3 164.4,776.9 168.3,772.7 171.2,771.2 175.6,767.5 180.8,756.3 186.2,740.0 194.2,726.5 197.1,735.2 201.9,743.8 205.8,756.3 209.6,764.0 214.4,778.1 218.3,774.6 221.5,777.5 224.0,778.5 227.9,774.6 231.7,778.1 236.5,773.1 240.4,776.9 243.6,771.6 248.1,778.5 251.5,768.0 259.2,779.5 262.4,774.9 266.5,777.2 270.0,776.5 273.5,778.8 277.4,764.3 283.8,778.2 288.0,771.5 293.1,777.7 309.2,780.0 334.6,781.2 339.2,780.0 342.7,779.5 350.8,774.2 352.5,776.2 354.2,775.8 355.4,778.2 358.9,780.0 363.8,778.8 366.2,767.0 368.8,776.2 375.0,780.0 381.2,778.8 388.8,781.2 397.5,777.0 442.5,774.5 444.5,777.5 446.2,768.0 447.5,773.8" fill="none" stroke="#000" stroke-width="1.2" stroke-linejoin="round" />
<circle cx="74.7" cy="727.0" r="1.7" fill="#000"/><circle cx="78.0" cy="727.0" r="1.7" fill="#000"/><circle cx="81.1" cy="738.6" r="1.7" fill="#000"/><circle cx="85.6" cy="747.8" r="1.7" fill="#000"/><circle cx="88.6" cy="750.3" r="1.7" fill="#000"/><circle cx="91.7" cy="759.5" r="1.7" fill="#000"/><circle cx="96.8" cy="754.2" r="1.7" fill="#000"/><circle cx="100.3" cy="705.9" r="1.7" fill="#000"/><circle cx="103.4" cy="650.7" r="1.7" fill="#000"/><circle cx="109.2" cy="613.5" r="1.7" fill="#000"/><circle cx="110.8" cy="609.5" r="1.7" fill="#000"/><circle cx="115.5" cy="638.1" r="1.7" fill="#000"/><circle cx="120.3" cy="701.8" r="1.7" fill="#000"/><circle cx="124.8" cy="726.3" r="1.7" fill="#000"/><circle cx="126.5" cy="740.2" r="1.7" fill="#000"/><circle cx="133.0" cy="738.0" r="1.7" fill="#000"/><circle cx="136.1" cy="700.4" r="1.7" fill="#000"/><circle cx="139.8" cy="655.8" r="1.7" fill="#000"/><circle cx="147.3" cy="665.0" r="1.7" fill="#000"/><circle cx="148.3" cy="687.1" r="1.7" fill="#000"/><circle cx="151.2" cy="725.8" r="1.7" fill="#000"/><circle cx="156.1" cy="749.5" r="1.7" fill="#000"/><circle cx="159.1" cy="766.3" r="1.7" fill="#000"/><circle cx="164.4" cy="776.9" r="1.7" fill="#000"/><circle cx="168.3" cy="772.7" r="1.7" fill="#000"/><circle cx="171.2" cy="771.2" r="1.7" fill="#000"/><circle cx="175.6" cy="767.5" r="1.7" fill="#000"/><circle cx="180.8" cy="756.3" r="1.7" fill="#000"/><circle cx="186.2" cy="740.0" r="1.7" fill="#000"/><circle cx="194.2" cy="726.5" r="1.7" fill="#000"/><circle cx="197.1" cy="735.2" r="1.7" fill="#000"/><circle cx="201.9" cy="743.8" r="1.7" fill="#000"/><circle cx="205.8" cy="756.3" r="1.7" fill="#000"/><circle cx="209.6" cy="764.0" r="1.7" fill="#000"/><circle cx="214.4" cy="778.1" r="1.7" fill="#000"/><circle cx="218.3" cy="774.6" r="1.7" fill="#000"/><circle cx="221.5" cy="777.5" r="1.7" fill="#000"/><circle cx="224.0" cy="778.5" r="1.7" fill="#000"/><circle cx="227.9" cy="774.6" r="1.7" fill="#000"/><circle cx="231.7" cy="778.1" r="1.7" fill="#000"/><circle cx="236.5" cy="773.1" r="1.7" fill="#000"/><circle cx="240.4" cy="776.9" r="1.7" fill="#000"/><circle cx="243.6" cy="771.6" r="1.7" fill="#000"/><circle cx="248.1" cy="778.5" r="1.7" fill="#000"/><circle cx="251.5" cy="768.0" r="1.7" fill="#000"/><circle cx="259.2" cy="779.5" r="1.7" fill="#000"/><circle cx="262.4" cy="774.9" r="1.7" fill="#000"/><circle cx="266.5" cy="777.2" r="1.7" fill="#000"/><circle cx="270.0" cy="776.5" r="1.7" fill="#000"/><circle cx="273.5" cy="778.8" r="1.7" fill="#000"/><circle cx="277.4" cy="764.3" r="1.7" fill="#000"/><circle cx="283.8" cy="778.2" r="1.7" fill="#000"/><circle cx="288.0" cy="771.5" r="1.7" fill="#000"/><circle cx="293.1" cy="777.7" r="1.7" fill="#000"/><circle cx="309.2" cy="780.0" r="1.7" fill="#000"/><circle cx="334.6" cy="781.2" r="1.7" fill="#000"/><circle cx="339.2" cy="780.0" r="1.7" fill="#000"/><circle cx="342.7" cy="779.5" r="1.7" fill="#000"/><circle cx="350.8" cy="774.2" r="1.7" fill="#000"/><circle cx="352.5" cy="776.2" r="1.7" fill="#000"/><circle cx="354.2" cy="775.8" r="1.7" fill="#000"/><circle cx="355.4" cy="778.2" r="1.7" fill="#000"/><circle cx="358.9" cy="780.0" r="1.7" fill="#000"/><circle cx="363.8" cy="778.8" r="1.7" fill="#000"/><circle cx="366.2" cy="767.0" r="1.7" fill="#000"/><circle cx="368.8" cy="776.2" r="1.7" fill="#000"/><circle cx="375.0" cy="780.0" r="1.7" fill="#000"/><circle cx="381.2" cy="778.8" r="1.7" fill="#000"/><circle cx="388.8" cy="781.2" r="1.7" fill="#000"/><circle cx="397.5" cy="777.0" r="1.7" fill="#000"/><circle cx="442.5" cy="774.5" r="1.7" fill="#000"/><circle cx="444.5" cy="777.5" r="1.7" fill="#000"/><circle cx="446.2" cy="768.0" r="1.7" fill="#000"/><circle cx="447.5" cy="773.8" r="1.7" fill="#000"/>
<polyline points="146.3,781.6 185.6,759.6 223.3,601.1 277.8,602.1 310.3,596.3 316.8,614.3" fill="none" stroke="#000" stroke-width="1.2" stroke-linejoin="round" />
<circle cx="146.3" cy="781.6" r="2.9" fill="none" stroke="#000" stroke-width="1.15"/><circle cx="185.6" cy="759.6" r="2.9" fill="none" stroke="#000" stroke-width="1.15"/><circle cx="223.3" cy="601.1" r="2.9" fill="none" stroke="#000" stroke-width="1.15"/><circle cx="277.8" cy="602.1" r="2.9" fill="none" stroke="#000" stroke-width="1.15"/><circle cx="310.3" cy="596.3" r="2.9" fill="none" stroke="#000" stroke-width="1.15"/><circle cx="316.8" cy="614.3" r="2.9" fill="none" stroke="#000" stroke-width="1.15"/>
</svg>
</body></html>
